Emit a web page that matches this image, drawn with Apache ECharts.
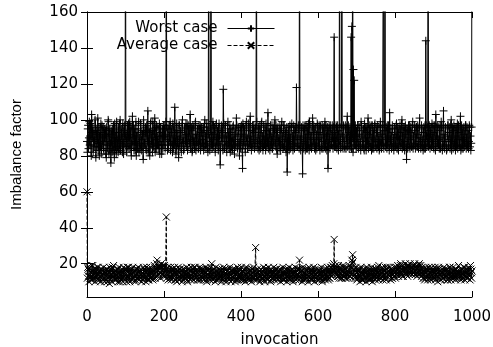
<!DOCTYPE html>
<html>
<head>
<meta charset="utf-8">
<script src="https://cdn.jsdelivr.net/npm/echarts@6/dist/echarts.min.js"></script>
<style>
  html, body { margin: 0; padding: 0; background: #fff; }
  #chart { width: 493px; height: 347px; }
</style>
</head>
<body>
<div id="chart"></div>
<script>
// values: even invocations (0, 2, ... 1000) and odd ones (1, 3, ... 999)
const worstCase = [
  88,95,84,99,91,86,103,90,82,94,89,97,85,92,101,87,80,93,98,84,90,96,83,88,94,
  79,91,86,99,84,92,76,88,95,83,90,98,85,81,93,89,96,84,100,87,91,82,94,88,97,
  250,89,93,85,98,90,84,96,87,102,91,83,95,88,80,93,86,99,90,84,97,89,92,78,94,
  87,96,83,91,105,88,93,85,99,90,82,94,87,101,89,84,96,91,86,98,88,93,81,95,90,
  86,97,92,250,89,95,84,91,99,87,93,82,96,90,107,88,85,94,91,79,97,89,93,86,100,
  90,84,95,88,92,98,85,91,87,103,89,94,83,96,90,86,99,92,88,95,84,91,97,87,93,
  89,96,85,100,91,87,94,82,250,90,88,250,93,86,97,89,92,84,98,90,87,95,91,75,93,
  88,94,117,90,85,97,91,86,99,93,88,82,95,90,84,97,89,92,86,101,91,87,94,80,96,
  89,92,73,96,87,91,84,99,90,86,94,88,102,91,85,97,89,93,87,95,250,90,84,96,88,
  93,87,99,91,85,96,89,83,94,90,104,88,92,86,97,91,84,95,89,100,87,93,81,96,90,
  88,94,86,99,91,85,97,89,93,84,71,92,96,88,90,85,98,91,87,94,89,93,118,90,86,
  95,250,89,91,87,70,94,88,97,90,84,96,92,86,99,89,93,85,101,90,87,95,83,92,98,
  89,93,86,97,90,84,95,88,92,99,87,91,85,73,94,89,97,86,92,90,88,146,93,85,96,
  90,87,94,250,89,92,250,91,97,88,84,95,90,102,87,93,89,92,146,152,250,128,122,91,86,
  94,89,97,85,92,88,99,91,86,95,83,90,96,88,93,101,87,92,85,97,90,84,94,89,98,
  88,93,86,96,91,84,99,89,92,87,250,94,250,90,86,97,91,88,104,89,93,85,95,90,87,
  92,86,98,90,84,95,89,93,87,100,91,85,96,88,92,78,94,90,86,97,89,93,85,99,91,
  87,94,90,96,85,92,88,101,90,86,95,89,93,84,97,144,91,88,250,94,86,92,89,98,90,
  85,93,88,103,91,87,96,89,94,84,99,90,86,105,92,88,95,83,91,97,89,93,86,100,90,
  88,94,87,96,91,85,98,89,93,86,102,90,84,95,89,92,87,97,90,85,94,88,96,91,87,
  250
]
const worstCaseOdd = [
  82,97,90,86,98,80,93,96,88,85,100,79,94,87,83,96,91,85,81,97,86,84,95,92,81,
  96,84,100,81,95,87,94,82,86,97,79,88,93,99,85,82,90,98,83,95,86,98,81,92,85,
  91,82,97,90,84,99,92,80,95,86,97,88,83,99,91,84,95,82,87,98,83,94,85,100,86,
  93,84,97,88,82,95,80,98,86,94,99,85,92,82,96,97,86,84,95,81,96,86,91,84,97,
  91,84,99,96,83,86,97,88,83,95,86,98,84,86,93,81,98,87,84,97,85,94,82,98,87,
  83,96,87,98,85,83,97,88,95,84,96,82,97,86,84,98,83,87,95,84,97,86,83,96,85,
  94,83,98,86,84,98,85,92,96,83,95,86,84,99,85,96,82,97,86,94,83,98,86,84,97,
  96,83,98,84,97,86,82,95,87,84,97,93,85,83,96,86,81,95,85,97,84,96,86,88,84,
  97,84,98,86,95,82,97,88,84,98,85,96,86,83,94,85,97,84,96,85,99,87,95,83,97,
  84,98,85,83,97,86,94,98,85,87,84,95,83,97,86,84,97,86,94,85,97,84,95,88,84,
  97,83,95,86,84,97,85,94,82,96,88,85,83,97,84,96,86,83,97,84,96,85,96,85,97,
  84,97,83,96,85,97,84,95,83,97,86,84,98,83,97,85,84,96,86,97,84,96,86,84,97,
  85,97,83,96,85,97,84,96,85,84,97,83,96,85,97,84,95,86,97,84,96,85,86,97,84,
  97,83,86,96,84,97,85,84,96,85,97,84,96,85,97,84,96,85,84,90,82,88,86,97,84,
  85,97,84,96,86,83,97,85,94,84,98,85,83,96,86,84,97,85,96,83,97,86,84,97,85,
  96,84,97,85,83,96,86,84,97,86,84,97,85,96,84,86,97,83,95,86,84,97,85,83,96,
  85,97,84,96,83,86,97,85,98,84,96,86,83,97,85,95,84,97,85,84,96,85,97,84,86,
  97,84,96,85,97,84,96,86,84,97,85,83,96,86,84,97,85,96,85,97,84,96,85,86,97,
  84,97,83,96,85,97,86,84,97,85,96,83,97,85,84,96,86,84,97,85,96,84,97,83,96,
  84,97,85,83,96,86,84,97,85,96,83,97,86,84,96,85,97,84,96,86,84,97,85,83,96
]

const averageCase = [
  60,18,13,16,12,15,19,11,14,17,13,15,12,18,14,16,11,15,13,17,12,16,14,10,15,
  13,17,12,15,9,14,16,12,18,13,15,11,16,14,12,17,13,15,10,14,16,12,15,13,17,
  14,12,16,13,18,11,15,14,17,12,15,13,16,11,14,17,12,15,13,16,14,10,15,13,17,
  12,15,13,16,11,14,17,12,15,13,16,12,14,18,13,17,22,16,18,14,19,15,18,16,17,
  15,18,16,46,17,14,16,13,15,12,16,14,17,13,15,11,14,16,12,15,13,17,14,12,16,
  13,15,12,16,14,11,15,17,13,14,12,16,13,15,18,14,12,16,13,15,11,14,17,13,15,
  12,16,14,13,15,11,17,14,12,15,13,16,20,14,12,15,13,16,11,14,15,12,17,13,14,
  16,12,15,13,17,11,14,16,12,15,13,14,10,16,13,15,12,17,14,11,15,13,16,12,14,
  15,12,16,13,11,15,14,17,12,15,13,16,11,14,17,13,15,12,16,29,14,12,15,13,16,
  13,15,12,16,14,11,15,13,17,12,14,16,13,15,11,14,16,12,15,13,17,14,12,15,13,
  16,12,14,13,15,11,16,14,12,15,13,17,14,12,16,13,15,11,14,16,13,15,12,14,17,
  13,22,15,12,16,14,11,15,13,16,12,14,17,13,15,12,16,14,11,15,13,16,12,14,15,
  13,16,12,15,14,11,16,13,15,12,14,17,13,15,12,16,14,18,15,17,16,33.5,18,15,17,
  14,16,13,17,15,12,16,14,18,13,15,17,12,16,14,17,15,13,18,22,25,17,14,16,13,
  15,12,16,14,17,13,15,11,14,16,13,15,12,17,14,16,13,15,11,14,16,12,15,13,17,
  14,16,13,15,19,14,16,12,15,17,13,16,14,12,15,18,14,16,13,15,17,12,16,14,15,
  13,16,18,15,17,14,16,19,15,17,13,16,18,15,17,14,19,16,18,15,17,16,18,15,17,
  19,16,18,15,17,14,19,16,17,15,18,14,16,12,15,17,13,16,14,18,15,12,16,14,17,
  13,15,18,14,16,12,15,17,14,16,13,15,12,16,14,17,13,15,11,16,14,18,13,15,12,
  16,14,13,15,17,12,16,14,15,13,17,12,15,14,16,18,13,15,12,16,14,17,13,19,15,
  16
]
const averageCaseOdd = [
  12,17,10,18,13,11,16,19,12,15,10,17,13,11,18,12,16,10,17,14,11,18,12,16,11,
  17,10,16,13,18,11,17,10,15,19,12,16,11,17,13,10,18,12,16,11,17,10,18,12,15,
  17,10,18,12,16,10,17,13,11,18,12,16,10,17,12,15,18,11,16,12,17,13,11,18,12,
  16,10,18,12,17,11,15,18,12,17,11,16,19,12,17,20,13,19,14,18,12,20,14,19,13,
  19,13,17,12,18,11,16,12,18,11,17,12,15,18,11,17,10,16,18,11,17,12,16,10,17,
  11,17,15,12,18,10,17,12,16,11,18,12,17,11,15,18,12,17,11,16,12,18,11,17,12,
  17,11,16,12,18,10,16,12,17,11,18,12,16,11,17,12,10,18,13,16,11,17,12,16,10,
  17,11,18,12,15,10,17,12,16,11,18,12,16,11,17,12,15,10,16,12,18,11,17,13,11,
  18,11,16,12,17,10,18,12,15,11,17,12,16,10,17,12,18,11,16,13,11,17,12,16,10,
  17,11,16,12,18,10,17,12,15,11,18,12,16,10,17,12,15,18,11,16,12,17,11,16,12,
  17,10,16,12,18,11,15,12,17,10,16,12,18,11,16,12,17,10,15,12,18,11,16,12,17,
  11,17,12,16,10,18,12,15,11,17,12,16,10,18,12,17,11,16,12,18,10,17,12,15,11,
  17,11,16,12,18,10,16,12,17,11,15,12,18,11,17,12,18,13,19,14,20,16,19,14,18,
  13,19,12,18,14,17,12,19,13,17,12,18,14,16,12,19,13,17,14,20,21,13,17,12,18,
  11,17,12,16,10,18,12,15,11,17,12,16,10,18,12,17,11,16,12,18,10,17,12,15,11,
  17,12,18,11,16,12,17,13,18,11,16,12,18,11,17,12,16,13,18,11,17,12,16,13,18,
  12,17,14,19,13,18,15,20,14,19,13,17,15,20,14,18,13,19,14,20,15,18,14,19,15,
  20,14,19,13,18,15,20,14,19,13,17,12,16,11,18,12,17,11,16,12,17,11,18,12,16,
  12,16,11,17,13,10,18,12,16,11,15,17,12,18,11,16,13,17,11,15,12,18,11,16,13,
  18,12,16,11,17,13,15,19,12,16,11,17,14,12,18,11,16,13,17,12,18,14,11,17,12
]

const xTicks = [0, 200, 400, 600, 800, 1000]
const yTicks = [20, 40, 60, 80, 100, 120, 140, 160]

const wide = 'DejaVu Sans, sans-serif'
const narrow = 'Liberation Sans, Arial, sans-serif'
const plus = 'path://M5,0L5,10M0,5L10,5'
const cross = 'path://M0,0L10,10M10,0L0,10'

// zip even and odd invocations back into one [invocation, value] list
function toPairs(even, odd) {
  const out = []
  even.forEach((v, i) => {
    out.push([2 * i, v])
    if (i < odd.length) out.push([2 * i + 1, odd[i]])
  })
  return out
}

const xBase = {
  type: 'value', min: 0, max: 1000, interval: 200,
  axisLine: { lineStyle: { color: '#000', width: 1 } },
  axisTick: { inside: true, length: 6, customValues: xTicks, lineStyle: { color: '#000' } },
  splitLine: { show: false }
}
const yBase = {
  type: 'value', min: 1.5, max: 160,
  axisLine: { show: true, lineStyle: { color: '#000', width: 1 } },
  axisTick: { inside: true, length: 6, customValues: yTicks, lineStyle: { color: '#000' } },
  splitLine: { show: false }
}

const chart = echarts.init(document.getElementById('chart'))
chart.setOption({
  animation: false,
  backgroundColor: '#fff',
  textStyle: { fontFamily: wide, color: '#000' },
  grid: { left: 87, right: 21, top: 12, bottom: 50, show: false, containLabel: false, outerBoundsMode: 'none' },
  legend: {
    orient: 'vertical',
    align: 'right',
    right: 218,
    top: 20,
    padding: 0,
    itemWidth: 47,
    itemHeight: 8,
    itemGap: 0,
    lineStyle: { width: 1 },
    textStyle: { fontFamily: wide, fontSize: 15, lineHeight: 17, color: '#000', padding: [0, 5, 0, 0] },
    data: ['Worst case', 'Average case']
  },
  xAxis: [
    Object.assign({}, xBase, {
      position: 'bottom',
      name: 'invocation', nameLocation: 'middle', nameGap: 36,
      nameTextStyle: { fontFamily: wide, fontSize: 15, color: '#000' },
      axisLabel: { fontFamily: wide, fontSize: 15, color: '#000', margin: 13, customValues: xTicks, formatter: v => String(v) }
    }),
    Object.assign({}, xBase, { position: 'top', axisLabel: { show: false } })
  ],
  yAxis: [
    Object.assign({}, yBase, {
      position: 'left',
      name: 'Imbalance factor', nameLocation: 'middle', nameGap: 63,
      nameTextStyle: { fontFamily: narrow, fontSize: 15, color: '#000' },
      axisLabel: { fontFamily: wide, fontSize: 15, color: '#000', margin: 9, customValues: yTicks }
    }),
    Object.assign({}, yBase, { position: 'right', axisLabel: { show: false } })
  ],
  series: [
    {
      name: 'Worst case',
      type: 'line',
      data: toPairs(worstCase, worstCaseOdd),
      color: '#000',
      showAllSymbol: true,
      symbol: plus,
      symbolSize: 8,
      itemStyle: { color: '#000', borderColor: '#000', borderWidth: 1 },
      lineStyle: { color: '#000', width: 1 },
      clip: true
    },
    {
      name: 'Average case',
      type: 'line',
      data: toPairs(averageCase, averageCaseOdd),
      color: '#000',
      showAllSymbol: true,
      symbol: cross,
      symbolSize: 7,
      itemStyle: { color: '#000', borderColor: '#000', borderWidth: 1 },
      lineStyle: { color: '#000', width: 1, type: 'dashed' },
      clip: true
    }
  ]
})
</script>
</body>
</html>
